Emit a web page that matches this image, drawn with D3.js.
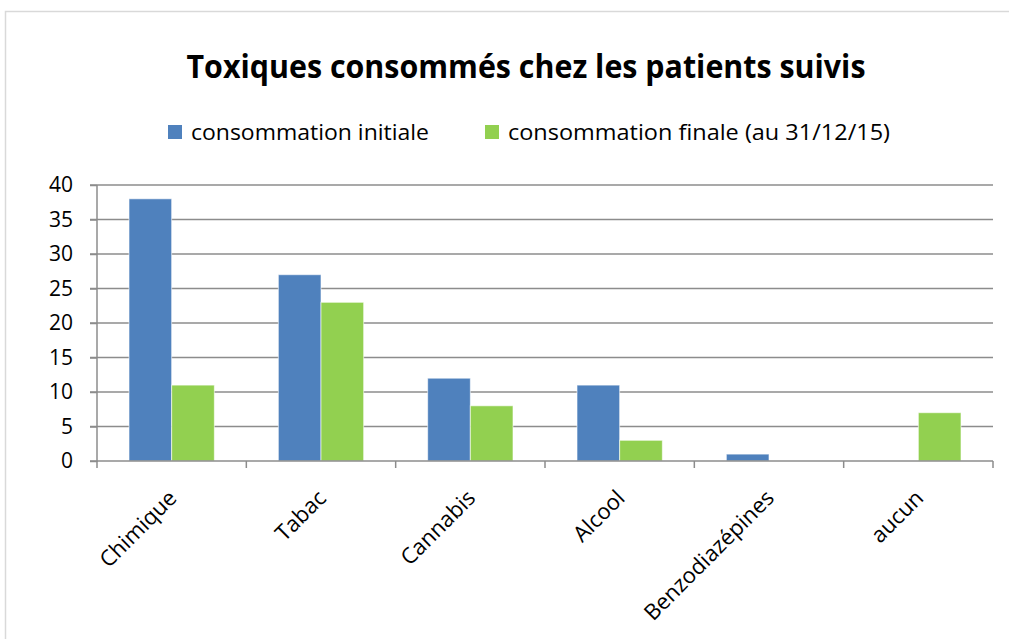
<!DOCTYPE html>
<html>
<head>
<meta charset="utf-8">
<script src="https://cdn.jsdelivr.net/npm/d3@7"></script>
<style>
  html, body { margin: 0; padding: 0; background: #fff; }
  svg { display: block; }
</style>
</head>
<body>
<svg id="chart" width="1009" height="639"></svg>
<script>
// Substances consumed by followed patients: initial vs final consumption
const categories = ["Chimique", "Tabac", "Cannabis", "Alcool", "Benzodiazépines", "aucun"];
const initialValues = [38, 27, 12, 11, 1, 0];
const finalValues = [11, 23, 8, 3, 0, 7];
const seriesNames = ["consommation initiale", "consommation finale (au 31/12/15)"];
const seriesColors = ["#4F81BD", "#92D050"];
const yTicks = [0, 5, 10, 15, 20, 25, 30, 35, 40];
const title = "Toxiques consommés chez les patients suivis";

const svg = d3.select("#chart");
const W = 1009, H = 639;
const plot = { left: 97, right: 993, top: 185, bottom: 461 };
const font = "'Open Sans', 'Noto Sans', sans-serif";

// Chart area frame
svg.append("rect")
  .attr("x", 5.5).attr("y", 11.5)
  .attr("width", W + 10).attr("height", H + 10)
  .attr("fill", "#fff").attr("stroke", "#d9d9d9").attr("stroke-width", 1.5);

const x0 = d3.scaleBand().domain(categories).range([plot.left, plot.right]).paddingInner(0).paddingOuter(0);
const x1 = d3.scaleBand().domain([0, 1]).range([0, x0.bandwidth()]).paddingInner(0).paddingOuter(0.75);
const y = d3.scaleLinear().domain([0, 40]).range([plot.bottom, plot.top]);

// Horizontal gridlines
svg.append("g").selectAll("line").data(yTicks.filter(t => t > 0)).join("line")
  .attr("x1", plot.left - 7).attr("x2", plot.right)
  .attr("y1", d => y(d)).attr("y2", d => y(d))
  .attr("stroke", "#8c8c8c").attr("stroke-width", 1.5);

// Y axis
const yAxis = svg.append("g").attr("transform", `translate(${plot.left},0)`)
  .call(d3.axisLeft(y).tickValues(yTicks).tickSize(7).tickPadding(17));
yAxis.select(".domain").attr("stroke", "#8c8c8c").attr("stroke-width", 1.5).attr("d", `M0,${plot.top}V${plot.bottom + 1}`);
yAxis.selectAll(".tick line").attr("stroke", "#8c8c8c").attr("stroke-width", 1.5);
yAxis.selectAll(".tick text").attr("font-family", font).attr("font-size", 21).attr("fill", "#000");

// Bars
const series = [initialValues, finalValues];
const groups = svg.append("g").selectAll("g").data(categories).join("g")
  .attr("transform", d => `translate(${x0(d)},0)`);
groups.selectAll("rect")
  .data((d, i) => series.map((s, k) => ({ k, v: s[i] })))
  .join("rect")
  .attr("x", d => x1(d.k))
  .attr("width", x1.bandwidth())
  .attr("y", d => y(d.v))
  .attr("height", d => y(0) - y(d.v))
  .attr("fill", d => seriesColors[d.k])
  .attr("stroke", d => d.v > 0 ? "rgba(255,255,255,0.6)" : "none")
  .attr("stroke-width", 1);

// X axis
const xAxis = svg.append("g").attr("transform", `translate(0,${plot.bottom})`);
xAxis.append("line")
  .attr("x1", plot.left - 7).attr("x2", plot.right)
  .attr("y1", 0).attr("y2", 0)
  .attr("stroke", "#8c8c8c").attr("stroke-width", 1.5);
const boundaries = categories.map(c => x0(c)).concat([plot.right]);
xAxis.selectAll("line.tick").data(boundaries).join("line")
  .attr("class", "tick")
  .attr("x1", d => d).attr("x2", d => d)
  .attr("y1", 0).attr("y2", 7)
  .attr("stroke", "#8c8c8c").attr("stroke-width", 1.5);
xAxis.selectAll("text").data(categories).join("text")
  .attr("transform", d => `translate(${x0(d) + x0.bandwidth() / 2 + 1},${33}) rotate(-45)`)
  .attr("text-anchor", "end")
  .attr("dy", "0.35em")
  .attr("font-family", font).attr("font-size", 22).attr("fill", "#000")
  .text(d => d);

// Title
svg.append("text")
  .attr("x", 526).attr("y", 78)
  .attr("text-anchor", "middle")
  .attr("font-family", "'Open Sans', sans-serif").attr("font-weight", "bold")
  .attr("font-size", 32).attr("fill", "#000")
  .attr("textLength", 679).attr("lengthAdjust", "spacingAndGlyphs")
  .text(title);

// Legend
const legendItems = [
  { x: 168, tx: 191, w: 238 },
  { x: 485, tx: 508, w: 382 }
];
const legend = svg.append("g").selectAll("g").data(seriesNames).join("g");
legend.append("rect")
  .attr("x", (d, i) => legendItems[i].x).attr("y", 125)
  .attr("width", 14).attr("height", 14)
  .attr("fill", (d, i) => seriesColors[i]);
legend.append("text")
  .attr("x", (d, i) => legendItems[i].tx).attr("y", 140)
  .attr("font-family", font).attr("font-size", 22).attr("fill", "#000")
  .attr("textLength", (d, i) => legendItems[i].w).attr("lengthAdjust", "spacingAndGlyphs")
  .text(d => d);
</script>
</body>
</html>
